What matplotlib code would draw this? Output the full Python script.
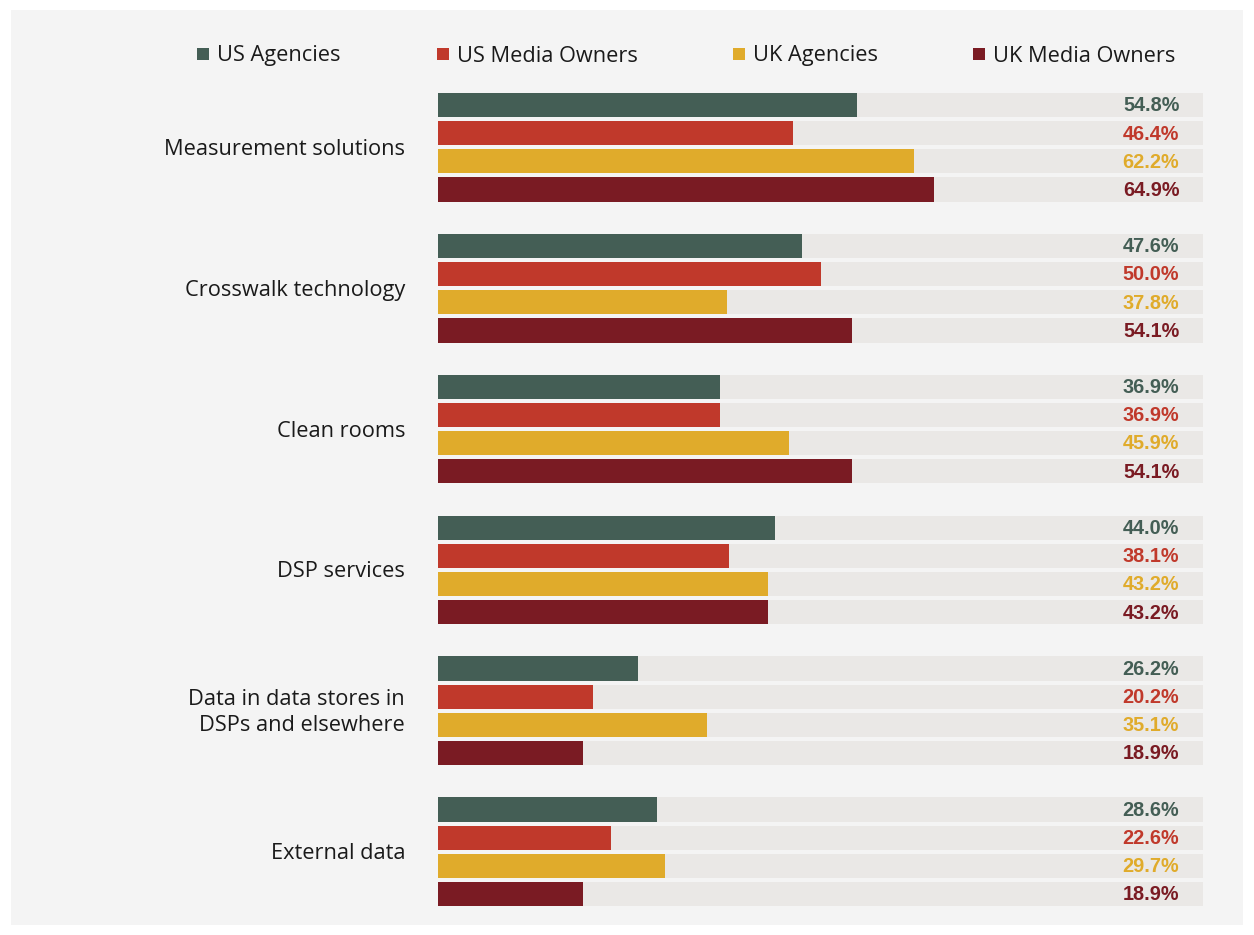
import numpy as np
import matplotlib.pyplot as plt
from matplotlib.patches import Rectangle

plt.rcParams['font.family'] = ['Open Sans', 'DejaVu Sans']

categories = ["Measurement solutions", "Crosswalk technology", "Clean rooms",
              "DSP services", "Data in data stores in\nDSPs and elsewhere", "External data"]
series = ["US Agencies", "US Media Owners", "UK Agencies", "UK Media Owners"]
us_agencies = [54.8, 47.6, 36.9, 44.0, 26.2, 28.6]
us_media_owners = [46.4, 50.0, 36.9, 38.1, 20.2, 22.6]
uk_agencies = [62.2, 37.8, 45.9, 43.2, 35.1, 29.7]
uk_media_owners = [64.9, 54.1, 54.1, 43.2, 18.9, 18.9]
colors = ["#445e55", "#c0392b", "#e0ab2b", "#7a1b23"]

values = [us_agencies, us_media_owners, uk_agencies, uk_media_owners]

fig = plt.figure(figsize=(12.54, 9.35), dpi=100)
fig.patch.set_facecolor('white')
fig.patches.append(Rectangle((11 / 1254, 1 - 925 / 935), 1232 / 1254, 915 / 935,
                             transform=fig.transFigure, facecolor='#f4f4f4',
                             edgecolor='none', zorder=-5))

top = 1 - (105 - 0.5 * 28.18) / 935
bottom = 1 - (894 + 0.5 * 28.18) / 935
ax = fig.add_axes([438 / 1254, bottom, 765 / 1254, top - bottom])
ax.set_facecolor('none')
ax.set_zorder(2)

n_series = len(series)
group_step = n_series + 1
bar_h = 0.86
for s, (vals, col) in enumerate(zip(values, colors)):
    ys = np.arange(len(categories)) * group_step + s
    ax.barh(ys, [100] * len(ys), height=bar_h, color='#eae8e6', zorder=1)
    ax.barh(ys, vals, height=bar_h, color=col, zorder=2)
    for y, v in zip(ys, vals):
        ax.text(96.9, y + 0.03, f"{v:.1f}%", ha='right', va='center', color=col,
                fontsize=14.3, fontweight='bold',
                family=['Liberation Sans', 'DejaVu Sans'], zorder=3)

for g, cat in enumerate(categories):
    ax.text(-4.3, g * group_step + 1.57, cat, ha='right', va='center',
            fontsize=15.7, color='#1a1a1a', multialignment='right', linespacing=1.3)

ax.set_xlim(0, 100)
ax.set_ylim(len(categories) * group_step - 1.5, -0.5)
ax.axis('off')

# legend row across the top
legend_x = [197, 437, 733, 973]
for lx, name, col in zip(legend_x, series, colors):
    fig.patches.append(Rectangle((lx / 1254, 1 - 60 / 935), 12 / 1254, 12 / 935,
                                 transform=fig.transFigure, facecolor=col,
                                 edgecolor='none', zorder=2))
    fig.text((lx + 20) / 1254, 1 - 56 / 935, name, ha='left', va='center',
             fontsize=15.7, color='#1a1a1a')

fig.savefig("out.png", dpi=100, facecolor=fig.get_facecolor())
